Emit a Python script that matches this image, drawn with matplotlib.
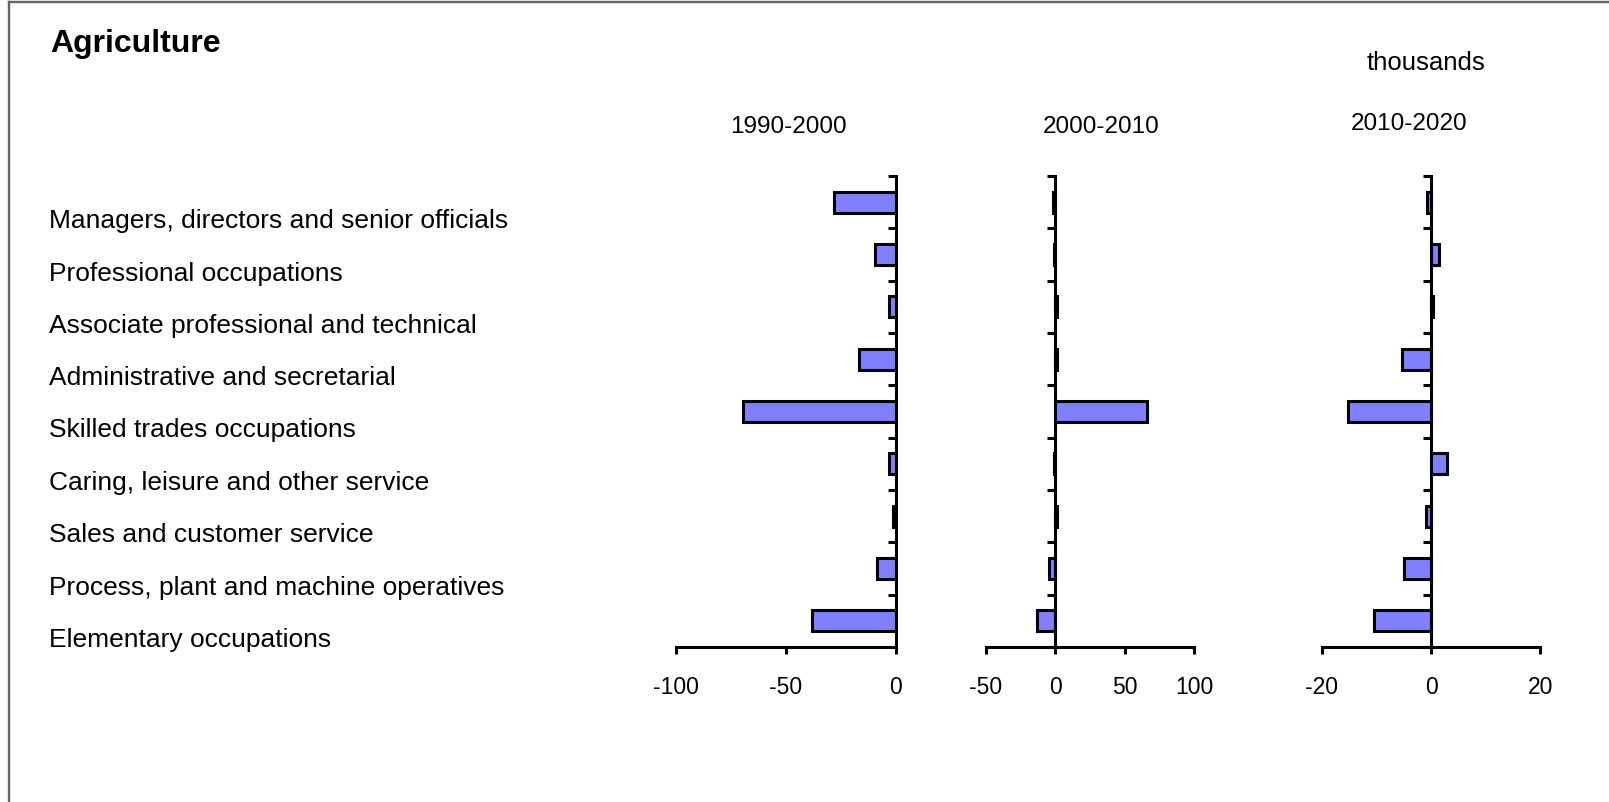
"""
Agriculture: change in employment by occupation, three decades (thousands)
"""

import matplotlib.pyplot as plt
from matplotlib.lines import Line2D

plt.rcParams["font.family"] = ["Liberation Sans", "DejaVu Sans"]

# ── data ──────────────────────────────────────────────
OCCUPATIONS = [
    "Managers, directors and senior officials",
    "Professional occupations",
    "Associate professional and technical",
    "Administrative and secretarial",
    "Skilled trades occupations",
    "Caring, leisure and other service",
    "Sales and customer service",
    "Process, plant and machine operatives",
    "Elementary occupations",
]
PERIODS = ["1990-2000", "2000-2010", "2010-2020"]

change_1990_2000 = [-28, -9.5, -3, -17, -69.5, -3, -1.5, -8.5, -38]
change_2000_2010 = [-2, -1, 1, 1, 66, -1, 1, -4.5, -13.5]
change_2010_2020 = [-0.7, 1.5, 0.3, -5.3, -15.2, 3.0, -1.0, -5.0, -10.5]

XLIMS = [(-100, 0), (-50, 100), (-20, 20)]
XTICKS = [[-100, -50, 0], [-50, 0, 50, 100], [-20, 0, 20]]

# ── layout (pixels of a 1609x803 canvas) ─────────────
W, H = 1609, 803
BAR_COLOR = "#8080FF"
LW = 2.2


def fx(px):
    return px / W


def fy(py):
    return 1 - py / H


fig = plt.figure(figsize=(W / 100, H / 100), dpi=100)

# frame (only left and top edges visible in the source)
fig.add_artist(Line2D([fx(9), fx(9)], [0, fy(3)], color="#666666", lw=1.7,
                      transform=fig.transFigure))
fig.add_artist(Line2D([fx(9), 1], [fy(3), fy(3)], color="#666666", lw=1.7,
                      transform=fig.transFigure))

fig.text(fx(50), fy(44), "Agriculture", fontsize=23, fontweight="bold",
         va="center", ha="left")
fig.text(fx(1426), fy(63), "thousands", fontsize=18.5, va="center", ha="center")

panel_x = [(676, 896), (986, 1194), (1321.7, 1540.3)]
title_pos = [(788, 127), (1101, 127), (1409, 124)]
series = [change_1990_2000, change_2000_2010, change_2010_2020]
top, bottom = 177, 648
row_h = (bottom - top) / len(OCCUPATIONS)

for k in range(3):
    x0, x1 = panel_x[k]
    ax = fig.add_axes([fx(x0), fy(bottom), fx(x1 - x0), (bottom - top) / H])
    ypos = list(range(len(OCCUPATIONS)))
    ax.barh(ypos, series[k], height=0.4, color=BAR_COLOR,
            edgecolor="black", linewidth=LW)
    ax.set_xlim(*XLIMS[k])
    ax.set_ylim(len(OCCUPATIONS) - 0.5, -0.5)
    ax.set_xticks(XTICKS[k])
    ax.set_xticklabels([str(t) for t in XTICKS[k]])
    ax.set_yticks([i - 0.5 for i in range(len(OCCUPATIONS) + 1)])
    ax.set_yticklabels([])
    ax.spines["top"].set_visible(False)
    ax.spines["right"].set_visible(False)
    ax.spines["left"].set_position(("data", 0))
    ax.spines["left"].set_linewidth(LW)
    ax.spines["bottom"].set_linewidth(LW)
    ax.tick_params(axis="x", direction="out", length=5, width=LW,
                   labelsize=16.5, pad=15)
    ax.tick_params(axis="y", direction="out", length=6, width=LW)
    ax.patch.set_alpha(0)
    tx, ty = title_pos[k]
    fig.text(fx(tx), fy(ty), PERIODS[k], fontsize=17.5, ha="center", va="center")

# category labels, left-aligned near the frame, sitting a little below each bar
for i, name in enumerate(OCCUPATIONS):
    fig.text(fx(49), fy(top + row_h * (i + 0.5) + 18), name, fontsize=19,
             ha="left", va="center")

fig.savefig("out.png", dpi=100)
